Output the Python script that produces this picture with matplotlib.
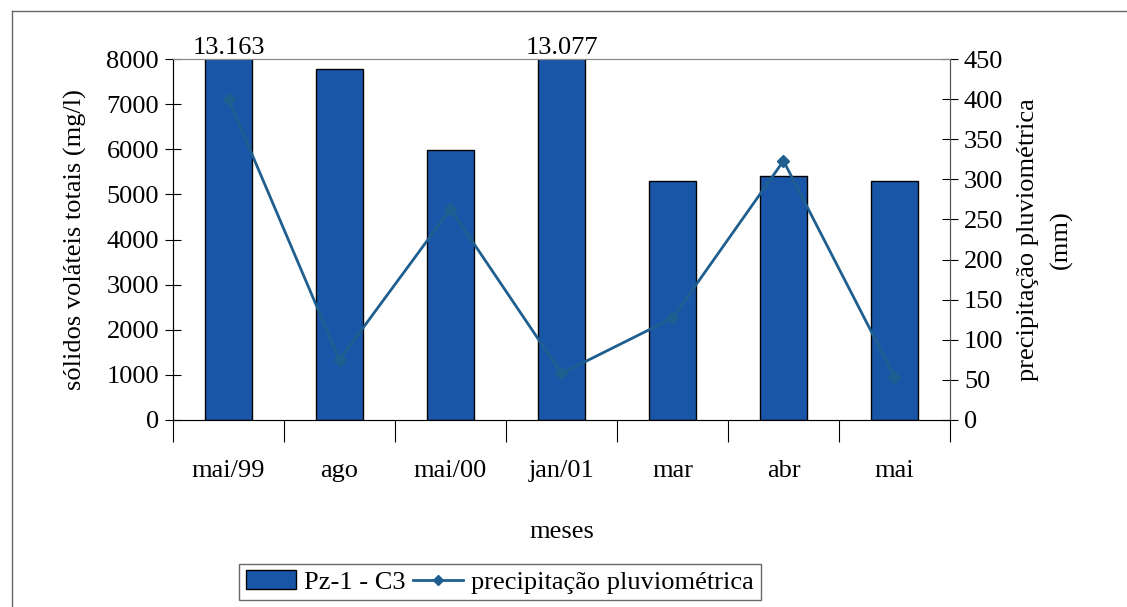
import matplotlib.pyplot as plt
from matplotlib.lines import Line2D
from matplotlib.patches import Patch

plt.rcParams["font.family"] = ["Liberation Serif", "DejaVu Serif"]

meses = ["mai/99", "ago", "mai/00", "jan/01", "mar", "abr", "mai"]
solidos = [13163, 7780, 5990, 13077, 5300, 5400, 5300]
precipitacao = [400, 75, 263, 58, 127, 323, 54]
rotulos_topo = {0: "13.163", 3: "13.077"}

bar_color = "#1a56a8"
line_color = "#1f5f8f"
fs = 19

fig = plt.figure(figsize=(11.27, 6.07), dpi=100)
ax = fig.add_axes([173 / 1127, 1 - 420 / 607, 777 / 1127, 361 / 607])
x = list(range(len(meses)))

ax.bar(x, solidos, width=0.42, color=bar_color, edgecolor="black", linewidth=1.0, zorder=2)
ax.set_ylim(0, 8000)
ax.set_xlim(-0.5, len(meses) - 0.5)
ax.set_yticks(range(0, 8001, 1000))
ax.set_xticks([i - 0.5 for i in range(len(meses) + 1)])
ax.set_xticklabels([])
ax.set_xticks(x, minor=True)
ax.set_xticklabels(meses, minor=True)
ax.tick_params(axis="x", which="minor", length=0, pad=29, labelsize=fs)
ax.tick_params(axis="x", which="major", direction="out", length=16)
ax.tick_params(axis="y", direction="inout", length=12, labelsize=fs, pad=4)
ax.set_ylabel("sólidos voláteis totais (mg/l)", fontsize=fs, labelpad=14)
ax.set_xlabel("meses", fontsize=fs, labelpad=28)

for i, txt in rotulos_topo.items():
    ax.annotate(txt, (i, 8000), xytext=(0, 0), textcoords="offset points",
                ha="center", va="bottom", fontsize=fs, annotation_clip=False)

ax.spines["top"].set_color("#888888")
for s in ["left", "bottom", "right"]:
    ax.spines[s].set_color("#555555")

ax2 = ax.twinx()
ax2.plot(x, precipitacao, color=line_color, linewidth=2, marker="D", markersize=6, zorder=3)
ax2.set_ylim(0, 450)
ax2.set_yticks(range(0, 451, 50))
ax2.tick_params(axis="y", direction="inout", length=12, labelsize=fs, pad=4)
ax2.set_ylabel("precipitação pluviométrica\n(mm)", fontsize=fs, labelpad=10, linespacing=1.6)
ax2.spines["right"].set_color("#555555")
ax2.spines["top"].set_color("#888888")

handles = [Patch(facecolor=bar_color, edgecolor="black", label="Pz-1 - C3"),
           Line2D([0], [0], color=line_color, linewidth=2, marker="D", markersize=5,
                  label="precipitação pluviométrica")]
leg = fig.legend(handles=handles, loc="center", bbox_to_anchor=(500 / 1127, 1 - 582 / 607),
                 ncol=2, fontsize=fs, frameon=True, fancybox=False, edgecolor="#444444",
                 handlelength=1.9, columnspacing=0.3, handletextpad=0.3, borderpad=0.25)

# moldura externa
fig.add_artist(Line2D([12 / 1127, 12 / 1127], [0, 1 - 11 / 607], transform=fig.transFigure, color="#666666", linewidth=1))
fig.add_artist(Line2D([12 / 1127, 1], [1 - 11 / 607, 1 - 11 / 607], transform=fig.transFigure, color="#666666", linewidth=1))

fig.savefig("out.png", dpi=100)
